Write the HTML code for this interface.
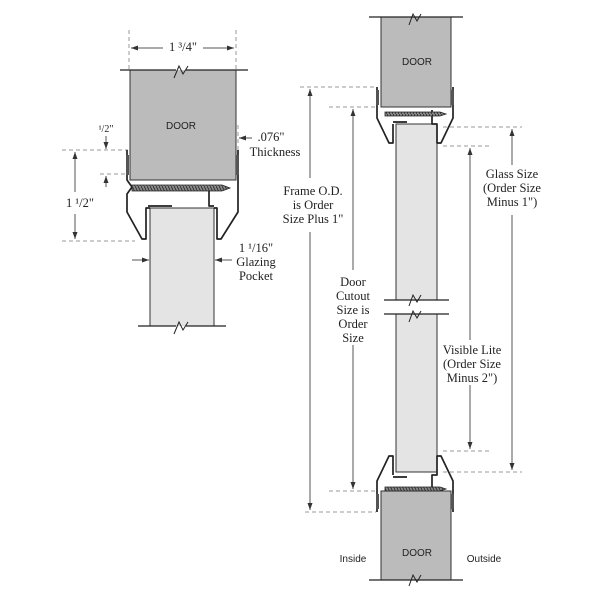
<!DOCTYPE html>
<html><head><style>body{margin:0;background:#fff}svg{display:block}text{font-family:"Liberation Serif",serif;fill:#222}.s text{font-family:"Liberation Sans",sans-serif}</style></head><body>
<svg width="600" height="600" viewBox="0 0 600 600" xmlns="http://www.w3.org/2000/svg">
<defs><marker id="a" markerWidth="8" markerHeight="8" refX="7" refY="4" orient="auto" markerUnits="userSpaceOnUse"><path d="M0,1.5 L7,4 L0,6.5z" fill="#333"/></marker>
<pattern id="th" width="3" height="6" patternUnits="userSpaceOnUse"><rect width="3" height="6" fill="#888"/><line x1="0" y1="0" x2="3" y2="6" stroke="#222" stroke-width="0.8"/></pattern></defs>
<g stroke="#999" stroke-dasharray="4,3" stroke-width="1" fill="none">
<line x1="129" y1="30" x2="129" y2="70"/><line x1="236" y1="30" x2="236" y2="70"/>
<line x1="238" y1="125" x2="238" y2="150"/>
<line x1="62" y1="150" x2="128" y2="150"/><line x1="100" y1="174" x2="128" y2="174"/>
<line x1="62" y1="241" x2="135" y2="241"/>
<line x1="150" y1="244" x2="150" y2="262"/><line x1="214" y1="244" x2="214" y2="262"/>
<line x1="300" y1="87" x2="376" y2="87"/><line x1="329" y1="107" x2="378" y2="107"/>
<line x1="443" y1="127" x2="522" y2="127"/><line x1="443" y1="146" x2="490" y2="146"/>
<line x1="443" y1="451" x2="490" y2="451"/><line x1="443" y1="472" x2="522" y2="472"/>
<line x1="329" y1="491" x2="378" y2="491"/><line x1="305" y1="512" x2="376" y2="512"/>
</g>
<g stroke="#555" stroke-width="1" fill="none" marker-end="url(#a)">
<line x1="163" y1="48" x2="131" y2="48"/><line x1="203" y1="48" x2="234" y2="48"/>
<line x1="106" y1="136" x2="106" y2="149"/><line x1="106" y1="187" x2="106" y2="176"/>
<line x1="75" y1="192" x2="75" y2="152"/><line x1="75" y1="214" x2="75" y2="239"/>
<line x1="222" y1="138" x2="235" y2="138"/><line x1="252" y1="138" x2="239" y2="138"/>
<line x1="132" y1="260" x2="149" y2="260"/><line x1="232" y1="260" x2="215" y2="260"/>
<line x1="310" y1="178" x2="310" y2="89"/><line x1="310" y1="232" x2="310" y2="510"/>
<line x1="353" y1="270" x2="353" y2="109"/><line x1="353" y1="345" x2="353" y2="489"/>
<line x1="470" y1="340" x2="470" y2="148"/><line x1="470" y1="385" x2="470" y2="449"/>
<line x1="512" y1="165" x2="512" y2="129"/><line x1="512" y1="215" x2="512" y2="470"/>
</g>
<g fill="#bbb" stroke="#333" stroke-width="1">
<rect x="130" y="70" width="106" height="110"/>
<rect x="381" y="17" width="70" height="90"/>
<rect x="381" y="491" width="70" height="89"/>
</g>
<g fill="#e4e4e4" stroke="#333" stroke-width="1">
<rect x="150" y="208" width="64" height="118"/>
<rect x="396" y="124" width="41" height="176"/>
<rect x="396" y="314" width="41" height="158"/>
</g>
<g stroke="#222" stroke-width="1.3" fill="none">
<path d="M120,70H248M138,326H226M369,17H463M384,300H449M384,314H449M369,580H463"/>
</g>
<g stroke="#fff" stroke-width="3"><line x1="176" y1="69" x2="186" y2="69"/><line x1="176" y1="327" x2="186" y2="327"/></g>
<path d="M174,78 L179,66 L183,74 L188,66" stroke="#222" fill="none"/>
<path d="M174,334 L179,322 L183,330 L188,322" stroke="#222" fill="none"/>
<path d="M409,25 L413,14 L417,21 L421,14" stroke="#222" fill="none"/>
<path d="M409,306 L413,295 L417,302 L421,295" stroke="#222" fill="none"/>
<path d="M409,322 L413,311 L417,318 L421,311" stroke="#222" fill="none"/>
<path d="M409,586 L413,575 L417,582 L421,575" stroke="#222" fill="none"/>
<g stroke="#222" stroke-width="1.7" fill="none" stroke-linejoin="round">
<path d="M127,150 V180 L132,187 L127,194 V212 L142,239 H146 V208 H150 M148,206 H172"/>
<path d="M238,150 V212 L221,239 H217 V208 H214 M214,206 H209 V185"/>
<path d="M377,87 V118 L389,143 H393 V124 M393,122 H407"/>
<path d="M453,87 V118 L441,143 H437 V124 H432 V110"/>
<path d="M377,512 V481 L389,456 H393 V475 M393,477 H407"/>
<path d="M453,512 V481 L441,456 H437 V475 H432 V489"/>
</g>
<g fill="#555"><rect x="126" y="155" width="3" height="20"/><rect x="236" y="155" width="3" height="20"/>
<rect x="376" y="90" width="3" height="15"/><rect x="451" y="90" width="3" height="15"/>
<rect x="376" y="494" width="3" height="15"/><rect x="451" y="494" width="3" height="15"/></g>
<g fill="url(#th)" stroke="#222" stroke-width="0.8">
<path d="M132,185 H222 L230,188 L222,191 H132 Z"/>
<path d="M385,112 H440 L446,114 L440,116 H385 Z"/>
<path d="M385,487 H440 L446,489 L440,491 H385 Z"/>
</g>
<g class="s" font-size="10" text-anchor="middle">
<text x="181" y="129">DOOR</text><text x="417" y="65">DOOR</text><text x="417" y="556">DOOR</text>
<text x="353" y="562">Inside</text><text x="484" y="562">Outside</text>
</g>
<g font-size="12.5" text-anchor="middle">
<text x="183" y="51">1 ³/4"</text>
<text x="106" y="132" font-size="10">¹/2"</text>
<text x="80" y="207">1 ¹/2"</text>
<text x="271" y="141">.076"</text><text x="275" y="156">Thickness</text>
<text x="256" y="252">1 ¹/16"</text><text x="256" y="266">Glazing</text><text x="256" y="280">Pocket</text>
<text x="313" y="195">Frame O.D.</text><text x="313" y="209">is Order</text><text x="313" y="223">Size Plus 1"</text>
<text x="353" y="286">Door</text><text x="353" y="300">Cutout</text><text x="353" y="314">Size is</text><text x="353" y="328">Order</text><text x="353" y="342">Size</text>
<text x="472" y="354">Visible Lite</text><text x="472" y="368">(Order Size</text><text x="472" y="382">Minus 2")</text>
<text x="512" y="178">Glass Size</text><text x="512" y="192">(Order Size</text><text x="512" y="206">Minus 1")</text>
</g>
</svg>
</body></html>
